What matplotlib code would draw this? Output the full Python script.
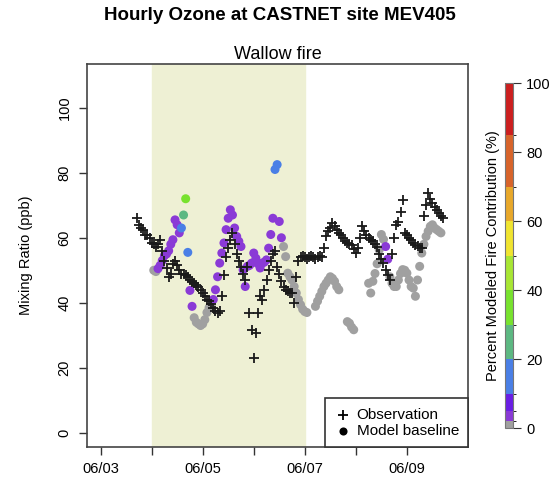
import matplotlib.pyplot as plt
import numpy as np
from matplotlib.colors import ListedColormap, BoundaryNorm
from matplotlib.cm import ScalarMappable

plt.rcParams['font.family'] = ['Liberation Sans', 'DejaVu Sans']

# observed hourly ozone (hours since 06/03 00:00, ppb)
obs_hour = list(range(17, 162))
obs_ppb = [66, 64, 63, 62.5, 61, 61, 60, 58.5, 58, 57.3,
           58, 59.4, 56, 53, 50.8, 48, 49, 52, 53, 51.7,
           50, 49, 49, 48.5, 48, 47, 46.5, 46, 45.5, 45,
           44, 43, 42, 41, 40.4, 39.5, 38.5, 37.5, 37, 37.5,
           42, 48.6, 54.2, 57, 59.4, 61.5, 58, 55, 53, 51,
           49, 47, 51, 37, 31.7, 23, 30.7, 37, 42, 41,
           44, 47, 50, 53, 55, 56, 51, 49, 46.6, 45,
           44, 43.5, 43, 43, 40, 48, 53, 54, 54.5, 54,
           53.5, 54, 54.5, 54, 53.5, 54, 54.5, 54, 57, 60.4,
           62, 63, 64.5, 63.5, 62.5, 61.5, 61, 60, 59, 58.5,
           58, 57.8, 56.5, 55.3, 57, 60, 63.5, 62, 61, 60,
           59.4, 59, 58, 57.3, 55, 53.5, 52.2, 50, 48.6, 47,
           55, 60, 64, 65, 68, 71.7, 61.4, 61, 60, 59.4,
           58.5, 57.8, 57.5, 57, 56.8, 66.6, 70, 73.7, 72, 70.7,
           69.5, 68.6, 67.5, 66.6, 66]

# model baseline ozone and modeled fire contribution (%)
model_hour = (list(range(25, 98)) + list(range(101, 113))
              + list(range(116, 120)) + list(range(126, 161)))
model_ppb = [50, 49.6, 50.5, 51.5, 53, 54.5, 55, 56, 58, 59.4,
             65.5, 64, 61.5, 63, 67, 72, 55.5, 43.8, 38.9, 35.4,
             34, 33.5, 33, 33.5, 34.8, 37, 38.5, 39, 41, 44,
             48, 52.2, 55.3, 58.4, 62.5, 66, 68.6, 67, 63, 60.4,
             58.9, 57.3, 50.1, 45, 51.2, 51.5, 52.2, 55.3, 53.7, 52,
             50.7, 52.2, 52.5, 53.2, 56.8, 61, 66, 81, 82.5, 65,
             60, 57.3, 54.2, 49.1, 48, 47, 45, 43, 41, 39.4,
             38, 37.3, 37,
             38.9, 40.5, 42, 43.5, 45, 46, 47, 48, 47.5, 46.6,
             45, 44,
             34.2, 33.7, 32.5, 31.7,
             46, 43, 46.6, 49, 52, 56.3, 61, 59.5, 57.3, 53.4,
             48, 46, 45, 45, 47, 49, 50.2, 50, 49.1, 47,
             45, 44.5, 42, 47, 51.2, 55.3, 58, 60.4, 62, 63.5,
             64, 63, 62.5, 62, 61.5]
model_fire = [1, 1, 2, 2, 3, 4, 4, 4, 4, 4,
              4, 4, 4, 15, 25, 38, 14, 4, 2, 1,
              1, 1, 1, 1, 1, 1, 1, 1, 2, 3,
              3, 4, 4, 4, 4, 4, 4, 4, 4, 4,
              4, 4, 4, 4, 4, 4, 4, 4, 4, 4,
              4, 4, 4, 4, 4, 4, 4, 14, 14, 4,
              2, 1, 1, 1, 1, 1, 1, 1, 1, 1,
              1, 1, 1,
              1, 1, 1, 1, 1, 1, 1, 1, 1, 1,
              1, 1,
              1, 1, 1, 1,
              1, 1, 1, 1, 1, 1, 1, 1, 4, 4,
              1, 1, 1, 1, 1, 1, 1, 1, 1, 1,
              1, 1, 1, 1, 1, 1, 1, 1, 1, 1,
              1, 1, 1, 1, 1]

day_ticks = [0, 1, 2, 3, 4, 5, 6]
day_labels = ['06/03', '', '06/05', '', '06/07', '', '06/09']
fire_start, fire_end = 1, 4

bounds = [0, 2, 5, 10, 20, 30, 40, 50, 60, 70, 85, 100]
colors = ['#a0a0a0', '#8a3ad6', '#6a1ee4', '#4a7fe6', '#5db882', '#78e22e',
          '#a8e634', '#f0e430', '#e8a82a', '#d8642a', '#cc1f1f']
cmap = ListedColormap(colors)
norm = BoundaryNorm(bounds, cmap.N)

fig = plt.figure(figsize=(5.6, 4.86), dpi=100)
ax = fig.add_axes([0.155, 0.080, 0.681, 0.788])

ax.axvspan(fire_start, fire_end, color='#eef0d4', zorder=0)

mx = np.array(model_hour) / 24.0
ax.scatter(mx, model_ppb, c=model_fire, cmap=cmap, norm=norm, s=42,
           linewidths=0, zorder=2)
ax.scatter(np.array(obs_hour) / 24.0, obs_ppb, marker='+', color='#1a1a1a',
           s=55, linewidths=1.3, zorder=3)

ax.set_xlim(-0.27, 7.2)
ax.set_ylim(-4.4, 113.4)
ax.set_xticks(day_ticks)
ax.set_xticklabels(day_labels, fontsize=10.5)
ax.set_yticks([0, 20, 40, 60, 80, 100])
ax.set_yticklabels(['0', '20', '40', '60', '80', '100'], rotation=90,
                   va='center', fontsize=10.5)
ax.tick_params(direction='out', length=6, width=1, color='#333333', pad=5)
for s in ax.spines.values():
    s.set_color('#444444')
    s.set_linewidth(1.2)
ax.set_ylabel('Mixing Ratio (ppb)', fontsize=10.5, labelpad=18)
ax.set_title('Wallow fire', fontsize=13, pad=4)
fig.suptitle('Hourly Ozone at CASTNET site MEV405', fontsize=13.5,
             fontweight='bold', y=0.985)

h_obs = ax.scatter([], [], marker='+', color='black', s=60, linewidths=1.3)
h_mod = ax.scatter([], [], marker='o', color='black', s=34, linewidths=0)
leg = ax.legend([h_obs, h_mod], ['Observation', 'Model baseline'],
                loc='lower right', borderaxespad=0, fontsize=11,
                fancybox=False, framealpha=1, handletextpad=0.3,
                handlelength=1.2, borderpad=0.6, labelspacing=0.15)
leg.get_frame().set_edgecolor('#333333')
leg.get_frame().set_linewidth(1.2)

cax = fig.add_axes([0.902, 0.119, 0.0143, 0.710])
cb = fig.colorbar(ScalarMappable(norm=norm, cmap=cmap), cax=cax,
                  spacing='proportional', ticks=[0, 20, 40, 60, 80, 100])
cb.outline.set_edgecolor('#777777')
cb.outline.set_linewidth(0.8)
cax.tick_params(length=6, labelsize=10.5, color='#333333')
cax.yaxis.set_label_position('left')
cb.set_label('Percent Modeled Fire Contribution (%)', fontsize=10.5,
             labelpad=4)

fig.savefig('out.png', dpi=100)
